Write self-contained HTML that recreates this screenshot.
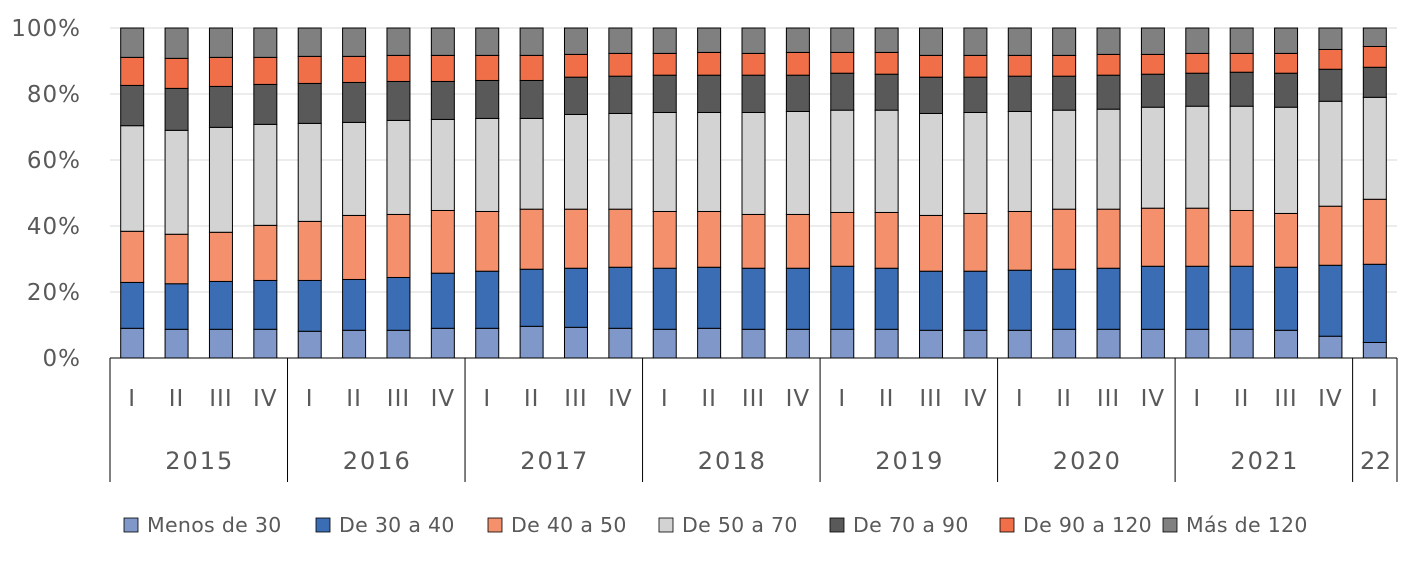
<!DOCTYPE html>
<html><head><meta charset="utf-8"><style>
body{margin:0;background:#fff;}
svg{display:block;font-family:"DejaVu Sans","Liberation Sans",sans-serif;}
</style></head><body>
<svg id="chart" width="1417" height="567"></svg>
<script>
const quarters=["I","II","III","IV","I","II","III","IV","I","II","III","IV","I","II","III","IV","I","II","III","IV","I","II","III","IV","I","II","III","IV","I"];
const years=["2015","2016","2017","2018","2019","2020","2021","22"];
const yearCounts=[4,4,4,4,4,4,4,1];
const seriesNames=["Menos de 30","De 30 a 40","De 40 a 50","De 50 a 70","De 70 a 90","De 90 a 120","Más de 120"];
const yTicks=[0,20,40,60,80,100];
const sMenos30=[9.0,8.7,8.7,8.7,8.1,8.4,8.4,9.0,9.0,9.6,9.3,9.0,8.7,9.0,8.7,8.7,8.7,8.7,8.4,8.4,8.4,8.7,8.7,8.7,8.7,8.7,8.4,6.6,4.7];
const s30a40=[13.9,13.8,14.5,14.8,15.4,15.4,16.0,16.7,17.3,17.3,17.9,18.5,18.5,18.5,18.5,18.5,19.1,18.5,17.9,17.9,18.2,18.2,18.5,19.1,19.1,19.1,19.1,21.5,23.7];
const s40a50=[15.5,15.0,14.9,16.7,17.9,19.4,19.1,19.0,18.1,18.2,17.9,17.6,17.2,16.9,16.3,16.3,16.3,16.9,16.9,17.5,17.8,18.2,17.9,17.6,17.6,16.9,16.3,17.9,19.7];
const s50a70=[32.0,31.5,31.8,30.6,29.7,28.2,28.5,27.6,28.2,27.5,28.7,29.0,30.0,30.0,30.9,31.2,31.0,31.0,30.9,30.6,30.3,30.0,30.3,30.6,30.9,31.6,32.2,31.8,30.9];
const s70a90=[12.2,12.7,12.4,12.1,12.1,12.1,11.8,11.5,11.5,11.5,11.3,11.3,11.3,11.3,11.3,11.0,11.2,10.9,11.0,10.7,10.7,10.3,10.3,10.0,10.0,10.3,10.3,9.7,9.1];
const s90a120=[8.5,9.1,8.8,8.2,8.2,7.9,7.9,7.9,7.6,7.6,6.9,6.9,6.6,6.9,6.6,6.9,6.3,6.6,6.6,6.6,6.3,6.3,6.3,6.0,6.0,5.7,6.0,6.0,6.3];
const sMas120=[8.9,9.2,8.9,8.9,8.6,8.6,8.3,8.3,8.3,8.3,8.0,7.7,7.7,7.4,7.7,7.4,7.4,7.4,8.3,8.3,8.3,8.3,8.0,8.0,7.7,7.7,7.7,6.5,5.6];
const series=[sMenos30,s30a40,s40a50,s50a70,s70a90,s90a120,sMas120];
const colors=["#7f97c9","#3b6db5","#f4906b","#d3d3d3","#595959","#f06f48","#808080"];
const keys=["menos-30","30-40","40-50","50-70","70-90","90-120","mas-120"];

const NS="http://www.w3.org/2000/svg";
const svg=document.getElementById("chart");
const X0=110,X1=1397,Y0=358,Y1=28;
const cw=(X1-X0)/quarters.length, bw=23;
const y=v=>Y0-(v/100)*(Y0-Y1);
const xc=i=>X0+cw*(i+0.5);
function mk(t,a){const e=document.createElementNS(NS,t);for(const k in a)e.setAttribute(k,a[k]);svg.appendChild(e);return e;}

yTicks.forEach(t=>{
  if(t>0){const g=mk("line",{x1:X0,x2:X1,y1:y(t),y2:y(t),stroke:"#d9d9d9","stroke-width":1});
  
  }
  const l=mk("text",{x:81,y:y(t)+8,"text-anchor":"end","font-size":23,fill:"#595959","letter-spacing":1});
  l.textContent=t+"%";
  
  
});

quarters.forEach((q,i)=>{
  let acc=0;
  series.forEach((s,k)=>{
    const v=s[i];
    const r=mk("rect",{x:xc(i)-bw/2,y:y(acc+v),width:bw,height:y(acc)-y(acc+v),fill:colors[k],stroke:"#000","stroke-width":1});
    
    
    acc+=v;
  });
  const t=mk("text",{x:xc(i),y:406,"text-anchor":"middle","font-size":23,fill:"#595959","letter-spacing":1});
  t.textContent=q;
  
  
});

const ax=mk("line",{x1:X0,x2:X1,y1:Y0,y2:Y0,stroke:"#000","stroke-width":1});


let start=0;
const sep0=mk("line",{x1:X0,x2:X0,y1:Y0,y2:482,stroke:"#000","stroke-width":1});


years.forEach((yr,j)=>{
  const end=start+yearCounts[j];
  const xe=X0+cw*end;
  const sp=mk("line",{x1:xe,x2:xe,y1:Y0,y2:482,stroke:"#000","stroke-width":1});
  
  
  const t=mk("text",{x:X0+cw*(start+end)/2+1,y:469,"text-anchor":"middle","font-size":24,fill:"#595959","letter-spacing":yr.length>2?2:0.5});
  t.textContent=yr;
  
  
  start=end;
});

const legX=[124,316,488,659,830,1000,1163];
seriesNames.forEach((n,k)=>{
  const r=mk("rect",{x:legX[k],y:518,width:14,height:14,fill:colors[k],stroke:"#000","stroke-width":0.8});
  
  
  const t=mk("text",{x:legX[k]+23,y:532,"font-size":20.5,fill:"#595959","letter-spacing":0.3});
  t.textContent=n;
  
  
});
</script>
</body></html>
